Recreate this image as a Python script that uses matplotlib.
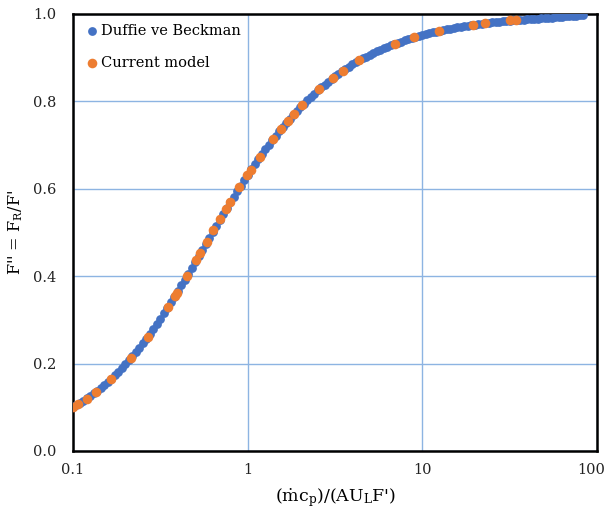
import matplotlib
matplotlib.use("Agg")
import matplotlib.pyplot as plt
from matplotlib.ticker import FixedLocator, FixedFormatter
from matplotlib.transforms import ScaledTranslation

plt.rcParams['font.family'] = ['DejaVu Serif']
plt.rcParams['mathtext.default'] = 'regular'

# Duffie ve Beckman (blue)
duffie_x = [0.1000, 0.1047, 0.1096, 0.1148, 0.1202, 0.1259, 0.1318, 0.1380, 0.1445, 0.1514,
            0.1585, 0.1660, 0.1738, 0.1820, 0.1905, 0.1995, 0.2089, 0.2188, 0.2291, 0.2399,
            0.2512, 0.2630, 0.2754, 0.2884, 0.3020, 0.3162, 0.3311, 0.3467, 0.3631, 0.3802,
            0.3981, 0.4169, 0.4365, 0.4571, 0.4786, 0.5012, 0.5248, 0.5495, 0.5754, 0.6026,
            0.6310, 0.6607, 0.6918, 0.7244, 0.7586, 0.7943, 0.8318, 0.8710, 0.9120, 0.9550,
            1.000, 1.047, 1.096, 1.148, 1.202, 1.259, 1.318, 1.380, 1.445, 1.514,
            1.585, 1.660, 1.738, 1.820, 1.905, 1.995, 2.089, 2.188, 2.291, 2.399,
            2.512, 2.630, 2.754, 2.884, 3.020, 3.162, 3.311, 3.467, 3.631, 3.802,
            3.981, 4.169, 4.365, 4.571, 4.786, 5.012, 5.248, 5.495, 5.754, 6.026,
            6.310, 6.607, 6.918, 7.244, 7.586, 7.943, 8.318, 8.710, 9.120, 9.550,
            10.00, 10.47, 10.96, 11.48, 12.02, 12.59, 13.18, 13.80, 14.45, 15.14,
            15.85, 16.60, 17.38, 18.20, 19.05, 19.95, 20.89, 21.88, 22.91, 23.99,
            25.12, 26.30, 27.54, 28.84, 30.20, 31.62, 33.11, 34.67, 36.31, 38.02,
            39.81, 41.69, 43.65, 45.71, 47.86, 50.12, 52.48, 54.95, 57.54, 60.26,
            63.10, 66.07, 69.18, 72.44, 75.86, 79.43, 83.18]
duffie_y = [0.1000, 0.1047, 0.1096, 0.1148, 0.1202, 0.1259, 0.1317, 0.1379, 0.1444, 0.1512,
            0.1582, 0.1656, 0.1732, 0.1812, 0.1895, 0.1982, 0.2072, 0.2165, 0.2262, 0.2362,
            0.2465, 0.2571, 0.2681, 0.2794, 0.2910, 0.3028, 0.3149, 0.3273, 0.3400, 0.3528,
            0.3658, 0.3790, 0.3923, 0.4058, 0.4193, 0.4330, 0.4467, 0.4605, 0.4742, 0.4880,
            0.5017, 0.5153, 0.5287, 0.5422, 0.5556, 0.5688, 0.5818, 0.5947, 0.6072, 0.6198,
            0.6321, 0.6441, 0.6559, 0.6676, 0.6789, 0.6901, 0.7008, 0.7114, 0.7217, 0.7319,
            0.7416, 0.7512, 0.7604, 0.7694, 0.7779, 0.7865, 0.7947, 0.8026, 0.8103, 0.8177,
            0.8249, 0.8319, 0.8385, 0.8450, 0.8512, 0.8574, 0.8631, 0.8686, 0.8741, 0.8792,
            0.8843, 0.8892, 0.8937, 0.8983, 0.9023, 0.9065, 0.9103, 0.9144, 0.9180, 0.9212,
            0.9249, 0.9283, 0.9314, 0.9338, 0.9368, 0.9396, 0.9420, 0.9446, 0.9467, 0.9494,
            0.9516, 0.9538, 0.9558, 0.9577, 0.9596, 0.9613, 0.9630, 0.9647, 0.9662, 0.9677,
            0.9691, 0.9705, 0.9718, 0.9730, 0.9742, 0.9754, 0.9764, 0.9775, 0.9785, 0.9795,
            0.9804, 0.9812, 0.9821, 0.9829, 0.9836, 0.9844, 0.9850, 0.9857, 0.9864, 0.9870,
            0.9876, 0.9882, 0.9888, 0.9894, 0.9900, 0.9906, 0.9912, 0.9918, 0.9924, 0.9930,
            0.9936, 0.9942, 0.9948, 0.9954, 0.9960, 0.9966, 0.9972]

# Current model (orange)
model_x = [0.100, 0.107, 0.120, 0.136, 0.165, 0.215, 0.268, 0.349, 0.384, 0.393,
           0.449, 0.507, 0.535, 0.584, 0.637, 0.695, 0.753, 0.794, 0.897, 0.997,
           1.042, 1.17, 1.39, 1.55, 1.70, 1.83, 2.05, 2.57, 3.06, 3.51,
           4.36, 6.93, 8.99, 12.5, 19.5, 22.8, 31.6, 34.4]
model_y = [0.100, 0.107, 0.120, 0.136, 0.1646, 0.2129, 0.2616, 0.3291, 0.3556, 0.3622,
           0.4006, 0.4364, 0.4525, 0.4786, 0.5045, 0.5302, 0.5534, 0.5686, 0.6029, 0.6313,
           0.6429, 0.6723, 0.7130, 0.7369, 0.7560, 0.7704, 0.7913, 0.8283, 0.8530, 0.8701,
           0.8938, 0.9312, 0.9464, 0.9611, 0.9748, 0.9784, 0.9850, 0.9865]

xticks = [0.1, 1, 10, 100]
xtick_labels = ['0.1', '1', '10', '100']
yticks = [0.0, 0.2, 0.4, 0.6, 0.8, 1.0]

fig = plt.figure(figsize=(6.08, 5.16), dpi=100)
ax = fig.add_axes([0.120, 0.126, 0.862, 0.847])

ax.scatter(duffie_x, duffie_y, s=40, color='#4472C4', label='Duffie ve Beckman',
           zorder=3, linewidths=0)
ax.scatter(model_x, model_y, s=48, color='#ED7D31', label='Current model',
           zorder=4, linewidths=0)

ax.set_xscale('log')
ax.set_xlim(0.1, 100)
ax.set_ylim(0, 1.0)
ax.xaxis.set_major_locator(FixedLocator(xticks))
ax.xaxis.set_major_formatter(FixedFormatter(xtick_labels))
ax.xaxis.set_minor_locator(FixedLocator([]))
ax.set_yticks(yticks)
ax.set_yticklabels(['%.1f' % v for v in yticks])

ax.grid(True, color='#8DB4E2', linewidth=1.0, zorder=0)
ax.set_axisbelow(True)
for sp in ax.spines.values():
    sp.set_linewidth(1.8)
    sp.set_color('black')
ax.tick_params(length=0, labelsize=10.5, colors='#222222')
ax.tick_params(axis='x', pad=9)
ax.tick_params(axis='y', pad=12)

# keep "100" inside the picture
last = ax.get_xticklabels()[-1]
last.set_transform(last.get_transform() + ScaledTranslation(-4 / 72, 0, fig.dpi_scale_trans))

ax.set_xlabel("(ṁc$_{p}$)/(AU$_{L}$F')", fontsize=12.5, labelpad=6)
ax.set_ylabel("F'' = F$_{R}$/F'", fontsize=11.5, labelpad=6)

leg = ax.legend(loc='upper left', frameon=False, fontsize=10.5, handletextpad=0.0,
                labelspacing=1.2, borderaxespad=0.3, handlelength=1.2,
                bbox_to_anchor=(0.0, 1.0))

fig.savefig('out.png', dpi=100)
